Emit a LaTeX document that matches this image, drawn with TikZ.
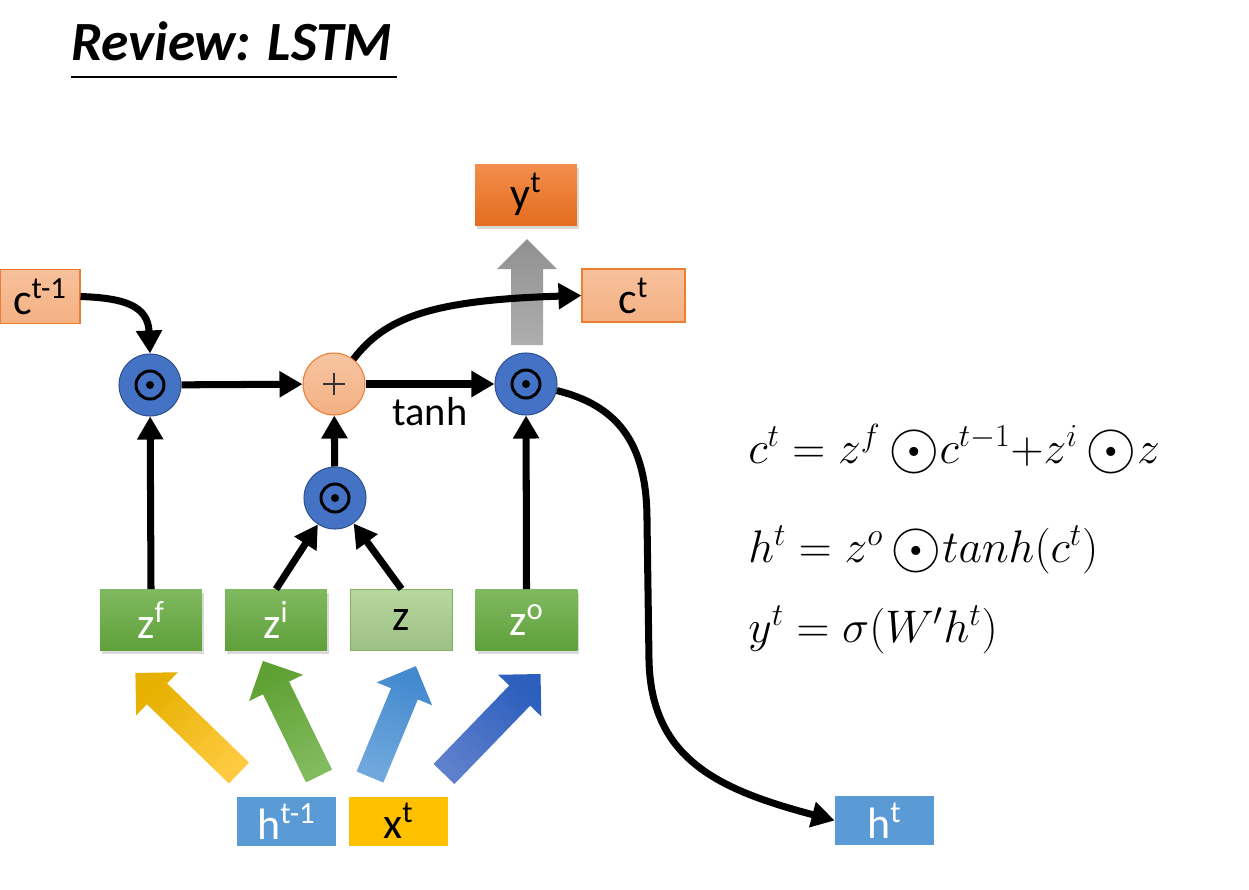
\RequirePackage{fix-cm}
\documentclass[tikz,border=0pt]{standalone}
\usepackage{fontspec}
\setmainfont{Carlito}
\usetikzlibrary{arrows.meta,shadows}

\definecolor{gateblue}{HTML}{4472C4}
\definecolor{gateline}{HTML}{2F528F}
\definecolor{salmon}{HTML}{F4B183}
\definecolor{salmonline}{HTML}{ED7D31}
\definecolor{ytop}{HTML}{F28E4C}
\definecolor{ybot}{HTML}{E46C1E}
\definecolor{ztop}{HTML}{80B960}
\definecolor{zbot}{HTML}{5FA03A}
\definecolor{zlight}{HTML}{A9D18E}
\definecolor{hblue}{HTML}{5B9BD5}
\definecolor{xgold}{HTML}{FFC000}
\definecolor{grayarrow}{HTML}{A0A0A0}

\newcommand{\hadam}{\mathord{\,\vcenter{\hbox{\scalebox{1.45}{$\odot$}}}}}

\tikzset{
  lbl/.style={font=\fontsize{25}{25}\selectfont, inner sep=0pt},
  box/.style={lbl, minimum width=2.04cm, minimum height=1.22cm},
  zbox/.style={box, top color=ztop, bottom color=zbot, text=white,
    drop shadow={shadow xshift=0.04cm, shadow yshift=-0.07cm, opacity=0.3}},
  cbox/.style={lbl, minimum width=2.06cm, minimum height=1.06cm,
    top color=salmon!80!white, bottom color=salmon, draw=salmonline, line width=0.6pt},
  hbox/.style={lbl, minimum width=1.98cm, minimum height=0.98cm, fill=hblue, text=white},
  gate/.style={circle, minimum size=1.24cm, inner sep=0pt, fill=gateblue,
    draw=gateline, line width=0.6pt,
    path picture={
      \draw[line width=1.7pt, draw=black] (path picture bounding box.center) circle (0.28cm);
      \fill[fill=black] (path picture bounding box.center) circle (0.08cm);
    }},
  addgate/.style={circle, minimum size=1.24cm, inner sep=0pt,
    top color=salmon!75!white, bottom color=salmon, draw=salmonline, line width=0.6pt,
    path picture={
      \draw[line width=0.7pt, draw=black!80] ([xshift=-0.22cm]path picture bounding box.center)
        -- ([xshift=0.22cm]path picture bounding box.center);
      \draw[line width=0.7pt, draw=black!80] ([yshift=-0.22cm]path picture bounding box.center)
        -- ([yshift=0.22cm]path picture bounding box.center);
    }},
  arr/.style={line width=4pt, -{Triangle[length=0.46cm, width=0.5cm]}},
}

\begin{document}
\begin{tikzpicture}[x=0.02cm, y=-0.02cm]
  \useasboundingbox (0,0) rectangle (1249,890);

  % Title
  \node[anchor=base west, inner sep=0pt, font=\fontsize{31.5}{31.5}\selectfont\bfseries\itshape]
    (title) at (71,60) {Review: LSTM};
  \draw[line width=1.2pt] (71,77) -- (397,77);

  % Big input arrows
  \foreach \tx/\ty/\ang/\sang/\len/\tail/\tip in {
      239/773/136/46/144/FFCA40/E6B100,
      319/776/116/26/128/82BA5E/5EA032,
      370/777/67.5/-22.5/120/70A8DD/4289CE,
      444/774/46/-44/139/5E80CC/2D5FBE} {
    \definecolor{tailcol}{HTML}{\tail}
    \definecolor{tipcol}{HTML}{\tip}
    \begin{scope}[shift={(\tx,\ty)}, rotate=\ang]
      \shade[top color=tipcol, bottom color=tailcol, shading angle=\sang]
        (0,-14.5) -- (\len-30,-14.5) -- (\len-30,-30) -- (\len,0)
        -- (\len-30,30) -- (\len-30,14.5) -- (0,14.5) -- cycle;
    \end{scope}
  }

  % Output arrow to y
  \shade[top color=grayarrow!90!black, bottom color=grayarrow!85!white]
    (511,345) -- (511,269) -- (497,269) -- (527,239) -- (557,269) -- (543,269) -- (543,345) -- cycle;

  % Boxes
  \node[zbox] (zf) at (151,620) {z\textsuperscript{f}};
  \node[zbox] (zi) at (276,620) {z\textsuperscript{i}};
  \node[box, top color=zlight!85!white, bottom color=zlight!90!black!95,
    draw=zbot!80, line width=0.6pt] (z) at (401.5,620) {z};
  \node[zbox] (zo) at (526.5,620) {z\textsuperscript{o}};
  \node[hbox] (hprev) at (286.5,821.5) {h\textsuperscript{t-1}};
  \node[hbox, fill=xgold, text=black] (xt) at (398.5,821) {x\textsuperscript{t}};
  \node[hbox] (ht) at (884.5,820.5) {h\textsuperscript{t}};
  \node[cbox, minimum width=1.6cm, minimum height=1.08cm] (cprev) at (40,296.5) {c\textsuperscript{t-1}};
  \node[cbox] (ct) at (633.5,295.5) {c\textsuperscript{t}};
  \node[box, top color=ytop, bottom color=ybot,
    drop shadow={shadow xshift=0.04cm, shadow yshift=-0.07cm, opacity=0.3}]
    (yt) at (526,194.5) {y\textsuperscript{t}};

  % Gates
  \node[gate] (fgate) at (150,385) {};
  \node[addgate] (add) at (334,384) {};
  \node[gate] (igate) at (335,498) {};
  \node[gate] (ogate) at (526,384) {};

  % Connectors
  \draw[arr] (cprev.east) .. controls (125,298) and (148,306) .. (fgate.north);
  \draw[arr] (zf.north) -- (fgate);
  \draw[arr] (zi.north) -- (igate);
  \draw[arr] (z.north) -- (igate);
  \draw[arr] (igate) -- (add);
  \draw[arr] (zo.north) -- (ogate);
  \draw[arr] (fgate) -- (add);
  \draw[arr] (add) -- (ogate) node[lbl, midway, below=0.2cm, font=\fontsize{23}{23}\selectfont] (tanh) {tanh};
  \draw[arr] (add.52) .. controls (385,318) and (430,300) .. (ct.west);
  \draw[arr] (ogate.-12) .. controls (615,405) and (647,440) .. (647,520)
    -- (649,660) .. controls (651,760) and (720,790) .. (ht.west);

  % Equations
  \begin{scope}[every node/.style={anchor=base west, inner sep=0pt, font=\fontsize{26}{26}\selectfont}]
    \node (eqc) at (748,463) {$c^t = z^f\hadam c^{t-1}{+}z^i\hadam z$};
    \node (eqh) at (748,562) {$h^t = z^o\hadam tanh(c^t)$};
    \node (eqy) at (748,642) {$y^t = \sigma(W'h^t)$};
  \end{scope}
\end{tikzpicture}
\end{document}
